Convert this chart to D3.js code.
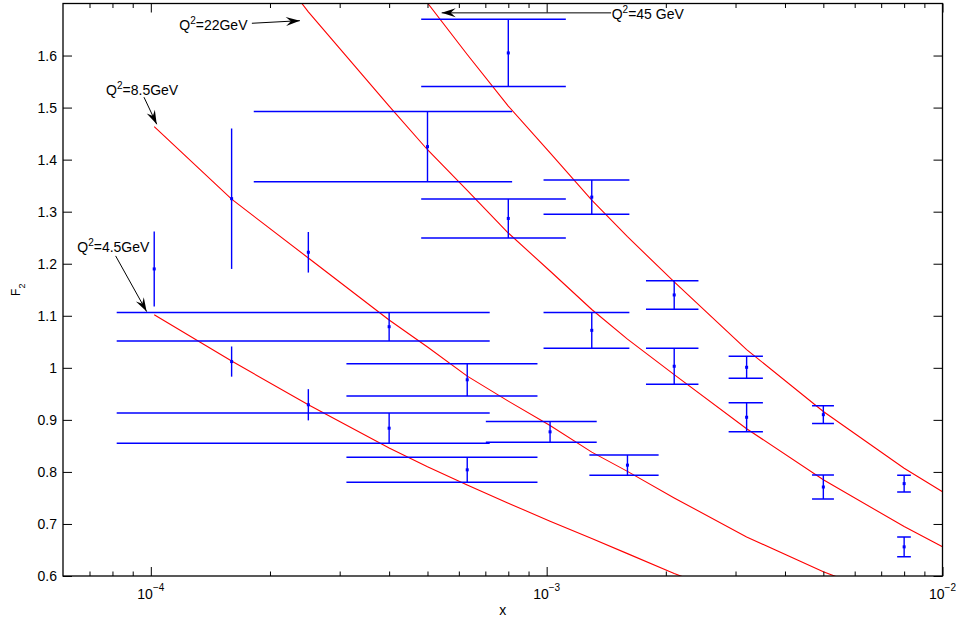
<!DOCTYPE html>
<html>
<head>
<meta charset="utf-8">
<script src="https://cdn.jsdelivr.net/npm/d3@7"></script>
<style>
  html, body { margin: 0; padding: 0; background: #fff; }
  svg { display: block; font-family: "Liberation Sans", Arial, Helvetica, sans-serif; }
</style>
</head>
<body>
<svg id="chart" width="956" height="621"></svg>
<script>
// ---- axis settings ----
const xDomain = [6e-5, 1e-2];
const yDomain = [0.6, 1.7];
const yTicks = [0.6, 0.7, 0.8, 0.9, 1.0, 1.1, 1.2, 1.3, 1.4, 1.5, 1.6];
const yTickLabels = ["0.6", "0.7", "0.8", "0.9", "1", "1.1", "1.2", "1.3", "1.4", "1.5", "1.6"];
const xMajorTicks = [1e-4, 1e-3, 1e-2];
const xMajorExponents = ["\u22124", "\u22123", "\u22122"];
const xMinorTicks = [7e-5, 8e-5, 9e-5,
  2e-4, 3e-4, 4e-4, 5e-4, 6e-4, 7e-4, 8e-4, 9e-4,
  2e-3, 3e-3, 4e-3, 5e-3, 6e-3, 7e-3, 8e-3, 9e-3];

// ---- measured F2 with errors, one array set per Q^2 ----
const q45x   = [1.02e-4, 1.6e-4, 2.5e-4, 4e-4, 6.3e-4];
const q45F2  = [1.190, 1.012, 0.929, 0.884, 0.804];
const q45err = [0.072, 0.029, 0.030, 0.029, 0.024];

const q85x   = [1.6e-4, 2.5e-4, 4e-4, 6.3e-4, 1.02e-3, 1.6e-3];
const q85F2  = [1.325, 1.222, 1.079, 0.977, 0.877, 0.813];
const q85err = [0.135, 0.039, 0.0275, 0.031, 0.020, 0.0195];

const q22x   = [5e-4, 8e-4, 1.3e-3, 2.1e-3, 3.2e-3, 5e-3, 8e-3];
const q22F2  = [1.425, 1.287, 1.072, 1.003, 0.905, 0.771, 0.656];
const q22err = [0.0675, 0.0375, 0.0345, 0.0345, 0.028, 0.023, 0.019];

const q45GeVx   = [8e-4, 1.3e-3, 2.1e-3, 3.2e-3, 5e-3, 8e-3];
const q45GeVF2  = [1.605, 1.328, 1.140, 1.001, 0.910, 0.7775];
const q45GeVerr = [0.0645, 0.0327, 0.0275, 0.021, 0.017, 0.016];

// error-bar cap half width, in x units (linear)
const CAP_HALF_WIDTH = 3.18e-4;

// ---- model curves F2(x) at fixed Q^2 ----
const curveX    = [1.02e-4, 1.6e-4, 2.5e-4, 4e-4, 5e-4, 6.3e-4, 8e-4, 1.02e-3, 1.3e-3, 1.6e-3, 2.1e-3, 3.2e-3, 5e-3, 8e-3, 1e-2];
const curveQ45  = [null, null, null, 1.80, 1.701, 1.602, 1.503, 1.413, 1.322, 1.252, 1.165, 1.035, 0.916, 0.807, 0.762];
const curveQ22  = [null, 1.875, 1.684, 1.503, 1.419, 1.341, 1.259, 1.186, 1.112, 1.055, 0.987, 0.883, 0.785, 0.695, 0.656];
const curveQ8_5 = [1.4635, 1.324, 1.211, 1.092, 1.040, 0.984, 0.936, 0.889, 0.838, 0.801, 0.750, 0.675, 0.608, 0.55, null];
const curveQ4_5 = [1.102, 1.013, 0.929, 0.846, 0.810, 0.775, 0.740, 0.705, 0.672, 0.643, 0.605, 0.55, null, null, null];

// ---- curve labels: text anchor, arrow tail, arrow tip (data units) ----
const labelNames = ["4.5GeV", "8.5GeV", "22GeV", "45 GeV"];
const labelText  = [[6.52e-5, 1.223], [7.71e-5, 1.524], [1.18e-4, 1.649], [1.46e-3, 1.670]];
const arrowTail  = [[8.15e-5, 1.215], [9.61e-5, 1.520], [1.80e-4, 1.662], [1.455e-3, 1.682]];
const arrowTip   = [[9.76e-5, 1.108], [1.035e-4, 1.468], [2.38e-4, 1.667], [5.43e-4, 1.682]];

// ---- layout ----
const plot = { left: 63, right: 942.5, top: 3.5, bottom: 576 };
const svg = d3.select("#chart");

const x = d3.scaleLog().domain(xDomain).range([plot.left, plot.right]);
const y = d3.scaleLinear().domain(yDomain).range([plot.bottom, plot.top]);

svg.append("defs").append("clipPath").attr("id", "plotClip")
  .append("rect")
  .attr("x", plot.left).attr("y", plot.top)
  .attr("width", plot.right - plot.left).attr("height", plot.bottom - plot.top);

const inner = svg.append("g").attr("clip-path", "url(#plotClip)");

// model curves
const line = d3.line()
  .defined(d => d[1] !== null)
  .x(d => x(d[0]))
  .y(d => y(d[1]));

[curveQ45, curveQ22, curveQ8_5, curveQ4_5].forEach(vals => {
  inner.append("path")
    .datum(curveX.map((cx, i) => [cx, vals[i]]))
    .attr("d", line)
    .attr("fill", "none")
    .attr("stroke", "#ff0000")
    .attr("stroke-width", 1.1);
});

// data with error bars
const blue = "#0000ff";
const sets = [
  [q45x, q45F2, q45err],
  [q85x, q85F2, q85err],
  [q22x, q22F2, q22err],
  [q45GeVx, q45GeVF2, q45GeVerr]
];

sets.forEach(([xs, vs, es]) => {
  const pts = xs.map((xv, i) => ({ x: xv, v: vs[i], e: es[i] }));
  const g = inner.append("g");

  // vertical bars
  g.selectAll("line.bar").data(pts).join("line")
    .attr("class", "bar")
    .attr("x1", d => x(d.x)).attr("x2", d => x(d.x))
    .attr("y1", d => y(d.v - d.e)).attr("y2", d => y(d.v + d.e))
    .attr("stroke", blue).attr("stroke-width", 1.4);

  // caps: only where the left end stays positive on the log axis
  const caps = [];
  pts.forEach(d => {
    if (d.x - CAP_HALF_WIDTH > 0) {
      caps.push({ x0: d.x - CAP_HALF_WIDTH, x1: d.x + CAP_HALF_WIDTH, v: d.v - d.e });
      caps.push({ x0: d.x - CAP_HALF_WIDTH, x1: d.x + CAP_HALF_WIDTH, v: d.v + d.e });
    }
  });
  g.selectAll("line.cap").data(caps).join("line")
    .attr("class", "cap")
    .attr("x1", d => x(d.x0)).attr("x2", d => x(d.x1))
    .attr("y1", d => y(d.v)).attr("y2", d => y(d.v))
    .attr("stroke", blue).attr("stroke-width", 1.5);

  // point markers
  g.selectAll("rect.pt").data(pts).join("rect")
    .attr("class", "pt")
    .attr("x", d => x(d.x) - 1.5).attr("y", d => y(d.v) - 1.5)
    .attr("width", 3).attr("height", 3)
    .attr("fill", blue);
});

// ---- axes (ticks point inward on all four sides) ----
function styleAxis(g) {
  g.select(".domain").remove();
  g.selectAll(".tick line").attr("stroke", "#000").attr("stroke-width", 1);
}

svg.append("g").attr("transform", `translate(${plot.left},0)`)
  .call(d3.axisLeft(y).tickValues(yTicks).tickFormat((d, i) => yTickLabels[i])
    .tickSizeInner(-9).tickSizeOuter(0).tickPadding(6))
  .call(styleAxis)
  .call(g => g.selectAll("text")
    .attr("font-size", 14).attr("fill", "#000")
    .attr("font-family", "'Liberation Sans', Arial, sans-serif"));

svg.append("g").attr("transform", `translate(${plot.right},0)`)
  .call(d3.axisRight(y).tickValues(yTicks).tickFormat("").tickSizeInner(-9).tickSizeOuter(0))
  .call(styleAxis);

[[d3.axisBottom, plot.bottom], [d3.axisTop, plot.top]].forEach(([axisFn, pos]) => {
  svg.append("g").attr("transform", `translate(0,${pos})`)
    .call(axisFn(x).tickValues(xMajorTicks).tickFormat("").tickSizeInner(-9).tickSizeOuter(0))
    .call(styleAxis);
  svg.append("g").attr("transform", `translate(0,${pos})`)
    .call(axisFn(x).tickValues(xMinorTicks).tickFormat("").tickSizeInner(-4.5).tickSizeOuter(0))
    .call(styleAxis);
});

// x tick labels as powers of ten
const xl = svg.append("g").attr("font-size", 14).attr("fill", "#000");
xMajorTicks.forEach((v, i) => {
  const t = xl.append("text")
    .attr("x", x(v)).attr("y", 599)
    .attr("text-anchor", "middle");
  t.append("tspan").text("10");
  t.append("tspan").attr("font-size", 10).attr("dy", -8).text(xMajorExponents[i]);
});

// frame
svg.append("rect")
  .attr("x", plot.left).attr("y", plot.top)
  .attr("width", plot.right - plot.left).attr("height", plot.bottom - plot.top)
  .attr("fill", "none").attr("stroke", "#000").attr("stroke-width", 1.3);

// axis titles
svg.append("text")
  .attr("x", (plot.left + plot.right) / 2).attr("y", 615)
  .attr("text-anchor", "middle").attr("font-size", 14).text("x");

const yl = svg.append("text")
  .attr("transform", `translate(20,${y(1.15)}) rotate(-90)`)
  .attr("text-anchor", "middle").attr("font-size", 12);
yl.append("tspan").text("F");
yl.append("tspan").attr("font-size", 9).attr("dy", 5).text("2");

// ---- curve labels with arrows ----
function arrowHead(tip, tail) {
  const ang = Math.atan2(tip[1] - tail[1], tip[0] - tail[0]);
  const len = 14, half = 4.5, notch = 9;
  const pt = (l, w) => [tip[0] - l * Math.cos(ang) - w * Math.sin(ang),
                        tip[1] - l * Math.sin(ang) + w * Math.cos(ang)];
  const a = pt(len, half), b = pt(notch, 0), c = pt(len, -half);
  return `M${tip[0]},${tip[1]}L${a[0]},${a[1]}L${b[0]},${b[1]}L${c[0]},${c[1]}Z`;
}

const ann = svg.append("g");
labelNames.forEach((name, i) => {
  const t = ann.append("text")
    .attr("x", x(labelText[i][0])).attr("y", y(labelText[i][1]))
    .attr("font-size", 14).attr("fill", "#000");
  t.append("tspan").text("Q");
  t.append("tspan").attr("font-size", 10).attr("dy", -6).text("2");
  t.append("tspan").attr("dy", 6).text("=" + name);

  const tail = [x(arrowTail[i][0]), y(arrowTail[i][1])];
  const tip = [x(arrowTip[i][0]), y(arrowTip[i][1])];
  ann.append("line")
    .attr("x1", tail[0]).attr("y1", tail[1])
    .attr("x2", tip[0]).attr("y2", tip[1])
    .attr("stroke", "#000").attr("stroke-width", 1);
  ann.append("path").attr("d", arrowHead(tip, tail)).attr("fill", "#000");
});
</script>
</body>
</html>
